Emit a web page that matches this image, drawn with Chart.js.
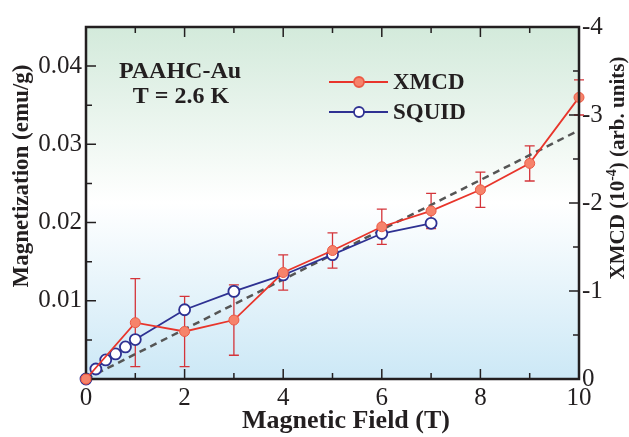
<!DOCTYPE html>
<html>
<head>
<meta charset="utf-8">
<script src="https://cdn.jsdelivr.net/npm/chart.js@4.4.0/dist/chart.umd.min.js"></script>
<style>
  html, body { margin: 0; padding: 0; background: #fff; }
  canvas { display: block; }
</style>
</head>
<body>
<canvas id="chart" width="629" height="437"></canvas>
<script>
// SQUID magnetization (left axis, emu/g)
const squidField = [0, 0.2, 0.4, 0.6, 0.8, 1, 2, 3, 4, 5, 6, 7];
const squidMag = [0, 0.00128, 0.00244, 0.0032, 0.0041, 0.00504, 0.00885, 0.0112, 0.0133, 0.0159, 0.0186, 0.0199];

// XMCD (right axis, 10^-4 arb. units) with error bars
const xmcdField = [0, 1, 2, 3, 4, 5, 6, 7, 8, 9, 10];
const xmcdVal = [0, -0.64, -0.54, -0.67, -1.21, -1.46, -1.73, -1.91, -2.15, -2.45, -3.20];
const xmcdErr = [0, 0.5, 0.4, 0.4, 0.2, 0.2, 0.2, 0.2, 0.2, 0.2, 0.2];

// dashed linear guide (left axis)
const fitField = [0, 10];
const fitMag = [0, 0.0318];

const INK = '#231f20';
const RED = '#e8352b';
const BLUE = '#2e3192';
const SERIF = 'Liberation Serif';

Chart.defaults.font.family = SERIF;

const toPoints = (xs, ys) => xs.map((x, i) => ({ x: x, y: ys[i] }));

// fond dégradé vert -> blanc -> bleu
const backgroundPlugin = {
  id: 'bg',
  beforeDraw(chart) {
    const { ctx, chartArea: a } = chart;
    const g = ctx.createLinearGradient(0, a.top, 0, a.bottom);
    g.addColorStop(0, '#d3eadb');
    g.addColorStop(0.5, '#ffffff');
    g.addColorStop(1, '#cce8f6');
    ctx.save();
    ctx.fillStyle = g;
    ctx.fillRect(a.left, a.top, a.right - a.left, a.bottom - a.top);
    ctx.restore();
  }
};

// barres d'erreur XMCD
const errorBarPlugin = {
  id: 'errbars',
  beforeDatasetsDraw(chart) {
    const { ctx } = chart;
    const xs = chart.scales.x, ys = chart.scales.y2;
    ctx.save();
    ctx.strokeStyle = '#d4343a';
    ctx.lineWidth = 1.3;
    xmcdField.forEach((f, i) => {
      if (!xmcdErr[i]) return;
      const px = xs.getPixelForValue(f);
      const y1 = ys.getPixelForValue(xmcdVal[i] - xmcdErr[i]);
      const y2 = ys.getPixelForValue(xmcdVal[i] + xmcdErr[i]);
      ctx.beginPath();
      ctx.moveTo(px, y1); ctx.lineTo(px, y2);
      ctx.moveTo(px - 5, y1); ctx.lineTo(px + 5, y1);
      ctx.moveTo(px - 5, y2); ctx.lineTo(px + 5, y2);
      ctx.stroke();
    });
    ctx.restore();
  }
};

// cadre + graduations vers l'intérieur
const framePlugin = {
  id: 'frame',
  afterDatasetsDraw(chart) {
    const { ctx, chartArea: a } = chart;
    const xs = chart.scales.x, yl = chart.scales.y, yr = chart.scales.y2;
    ctx.save();
    ctx.strokeStyle = INK;
    ctx.lineWidth = 1.5;
    ctx.beginPath();
    for (let v = 0; v <= 10; v++) {
      const px = xs.getPixelForValue(v);
      const len = v % 2 === 0 ? 10 : 6;
      ctx.moveTo(px, a.bottom); ctx.lineTo(px, a.bottom - len);
      ctx.moveTo(px, a.top); ctx.lineTo(px, a.top + len);
    }
    for (let i = 0; i <= 9; i++) {
      const py = yl.getPixelForValue(i * 0.005);
      ctx.moveTo(a.left, py); ctx.lineTo(a.left + (i % 2 === 0 ? 10 : 6), py);
    }
    for (let i = 0; i <= 8; i++) {
      const py = yr.getPixelForValue(-i * 0.5);
      ctx.moveTo(a.right, py); ctx.lineTo(a.right - (i % 2 === 0 ? 10 : 6), py);
    }
    ctx.stroke();
    ctx.lineWidth = 2.5;
    ctx.strokeRect(a.left, a.top, a.right - a.left, a.bottom - a.top);
    ctx.restore();
  }
};

// point d'origine redessiné par-dessus le cadre
const originPlugin = {
  id: 'origin',
  afterDatasetsDraw(chart) {
    const { ctx } = chart;
    const px = chart.scales.x.getPixelForValue(xmcdField[0]);
    const py = chart.scales.y2.getPixelForValue(xmcdVal[0]);
    ctx.save();
    ctx.beginPath();
    ctx.arc(px, py, 5, 0, Math.PI * 2);
    ctx.fillStyle = '#f6836b';
    ctx.fill();
    ctx.strokeStyle = '#ec5a45';
    ctx.lineWidth = 1;
    ctx.stroke();
    ctx.restore();
  }
};

// titres d'axes, légende, annotation
const textPlugin = {
  id: 'texts',
  afterDraw(chart) {
    const { ctx } = chart;
    const big = 'bold 23px "Liberation Serif"';
    ctx.save();
    ctx.fillStyle = INK;
    ctx.font = big;
    ctx.textBaseline = 'middle';
    ctx.textAlign = 'center';

    // annotation
    ctx.font = 'bold 24px "Liberation Serif"';
    ctx.fillText('PAAHC-Au', 180, 72);
    ctx.fillText('T = 2.6 K', 181, 97);

    // titre axe x
    ctx.font = 'bold 26px "Liberation Serif"';
    ctx.fillText('Magnetic Field (T)', 346, 421);

    // titre axe gauche
    ctx.font = big;
    ctx.save();
    ctx.translate(22, 176);
    ctx.rotate(-Math.PI / 2);
    ctx.fillText('Magnetization (emu/g)', 0, 0);
    ctx.restore();

    // titre axe droit avec exposant
    ctx.save();
    ctx.translate(619, 168);
    ctx.rotate(-Math.PI / 2);
    ctx.textAlign = 'left';
    const p1 = 'XMCD (10', sup = '-4', p2 = ') (arb. units)';
    const rbig = 'bold 21px "Liberation Serif"', rsmall = 'bold 14px "Liberation Serif"';
    ctx.font = rbig; const w1 = ctx.measureText(p1).width, w3 = ctx.measureText(p2).width;
    ctx.font = rsmall; const w2 = ctx.measureText(sup).width;
    const x0 = -(w1 + w2 + w3) / 2;
    ctx.font = rbig; ctx.fillText(p1, x0, 0);
    ctx.font = rsmall; ctx.fillText(sup, x0 + w1, -7);
    ctx.font = rbig; ctx.fillText(p2, x0 + w1 + w2, 0);
    ctx.restore();

    // légende
    const rows = [
      { label: 'XMCD', y: 82, line: RED, fill: '#f6836b', edge: '#ec5a45' },
      { label: 'SQUID', y: 112, line: BLUE, fill: '#ffffff', edge: BLUE }
    ];
    rows.forEach(r => {
      ctx.strokeStyle = r.line;
      ctx.lineWidth = 1.8;
      ctx.beginPath();
      ctx.moveTo(329, r.y); ctx.lineTo(388, r.y);
      ctx.stroke();
      ctx.beginPath();
      ctx.arc(359, r.y, 5, 0, Math.PI * 2);
      ctx.fillStyle = r.fill;
      ctx.fill();
      ctx.strokeStyle = r.edge;
      ctx.stroke();
      ctx.fillStyle = INK;
      ctx.textAlign = 'left';
      ctx.font = big;
      ctx.fillText(r.label, 393, r.y + 1);
    });
    ctx.restore();
  }
};

const tickFont = { family: SERIF, size: 25 };

new Chart(document.getElementById('chart'), {
  type: 'scatter',
  data: {
    datasets: [
      {
        label: 'fit',
        data: toPoints(fitField, fitMag),
        yAxisID: 'y',
        showLine: true,
        borderColor: '#555555',
        borderWidth: 2.5,
        borderDash: [7, 5],
        pointRadius: 0,
        order: 3
      },
      {
        label: 'SQUID',
        data: toPoints(squidField, squidMag),
        yAxisID: 'y',
        showLine: true,
        clip: false,
        borderColor: BLUE,
        borderWidth: 1.8,
        pointRadius: 5.5,
        pointBackgroundColor: '#ffffff',
        pointBorderColor: BLUE,
        pointBorderWidth: 1.8,
        order: 2
      },
      {
        label: 'XMCD',
        data: toPoints(xmcdField, xmcdVal),
        yAxisID: 'y2',
        showLine: true,
        clip: false,
        borderColor: RED,
        borderWidth: 1.8,
        pointRadius: 5,
        pointBackgroundColor: '#f6836b',
        pointBorderColor: '#ec5a45',
        pointBorderWidth: 1,
        order: 1
      }
    ]
  },
  options: {
    responsive: false,
    animation: false,
    layout: { padding: { top: 27, left: 0, right: 0, bottom: 0 } },
    plugins: {
      legend: { display: false },
      tooltip: { enabled: false }
    },
    scales: {
      x: {
        type: 'linear',
        min: 0, max: 10,
        grid: { display: false, drawTicks: false },
        border: { display: false },
        ticks: {
          stepSize: 1, autoSkip: false, maxRotation: 0,
          font: tickFont, color: INK, padding: 4,
          callback: v => (v % 2 === 0 ? String(v) : '')
        },
        afterFit: s => { s.height = 58; }
      },
      y: {
        position: 'left',
        min: 0, max: 0.045,
        grid: { display: false, drawTicks: false },
        border: { display: false },
        ticks: {
          stepSize: 0.005, autoSkip: false,
          font: tickFont, color: INK, padding: 4,
          callback: v => {
            const i = Math.round(v / 0.005);
            return (i % 2 === 0 && i > 0) ? (i * 0.005).toFixed(2) : '';
          }
        },
        afterFit: s => { s.width = 86; }
      },
      y2: {
        position: 'right',
        min: -4, max: 0,
        reverse: true,
        grid: { display: false, drawTicks: false },
        border: { display: false },
        ticks: {
          stepSize: 0.5, autoSkip: false,
          font: tickFont, color: INK, padding: 3,
          callback: v => (Number.isInteger(v) ? String(v === 0 ? 0 : v) : '')
        },
        afterFit: s => { s.width = 50; }
      }
    }
  },
  plugins: [backgroundPlugin, errorBarPlugin, framePlugin, originPlugin, textPlugin]
});
</script>
</body>
</html>
